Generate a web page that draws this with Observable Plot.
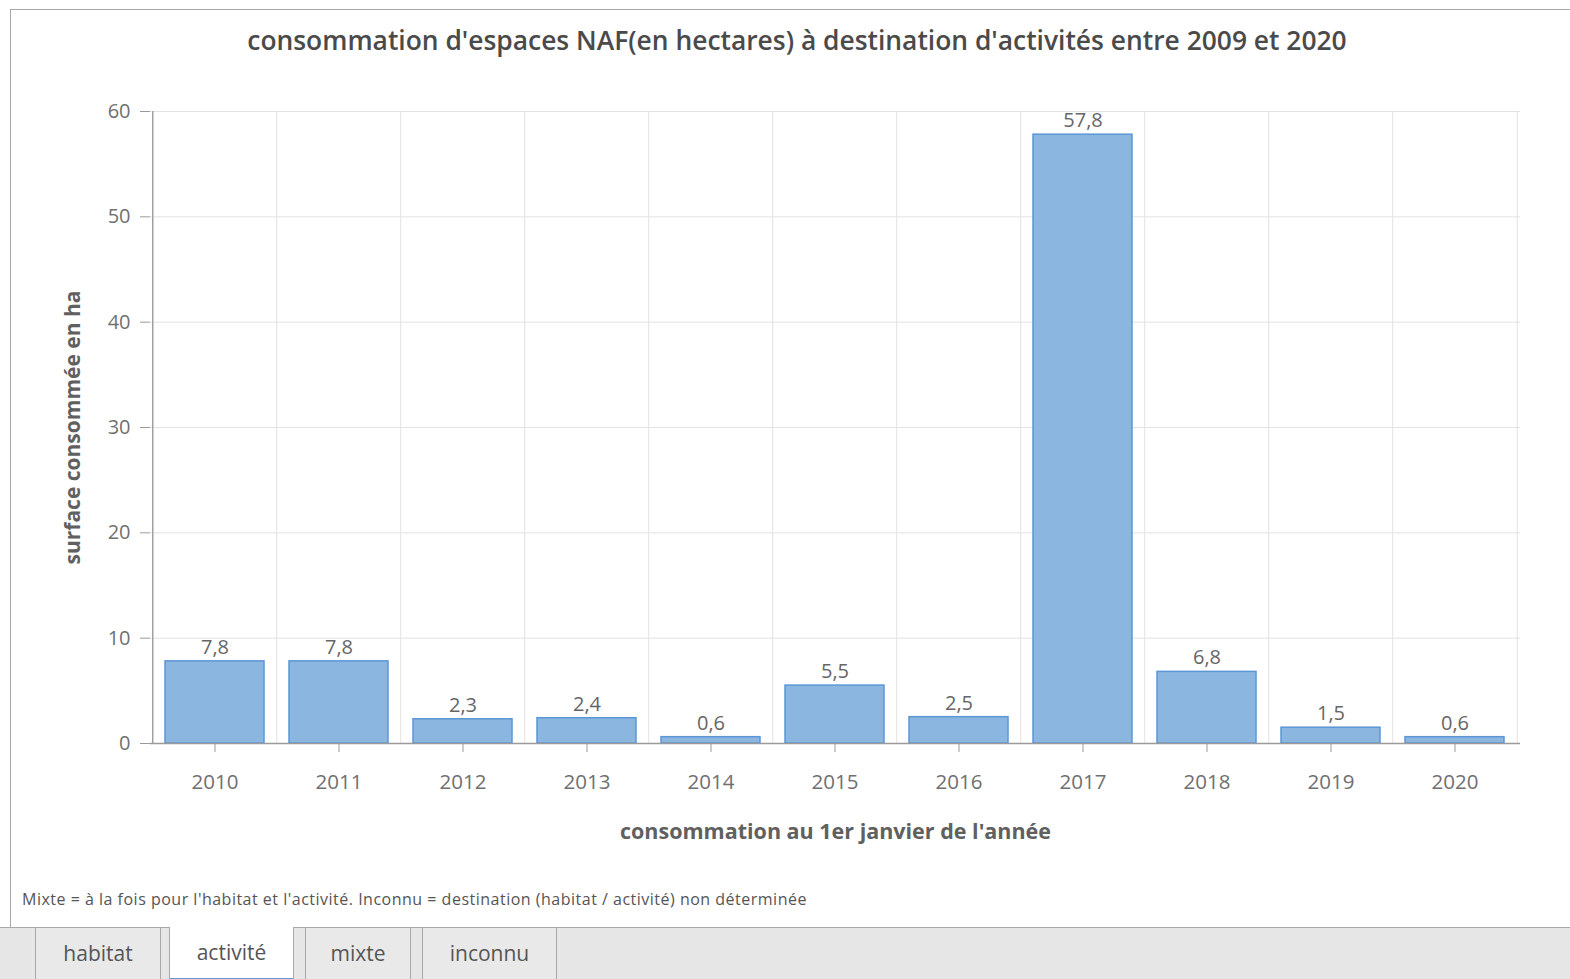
<!DOCTYPE html>
<html>
<head>
<meta charset="utf-8">
<script src="https://cdn.jsdelivr.net/npm/d3@7"></script>
<script src="https://cdn.jsdelivr.net/npm/@observablehq/plot@0.6"></script>
<style>
  html, body { margin: 0; padding: 0; background: #fff; width: 1570px; height: 979px; overflow: hidden; font-family: "Open Sans", "Noto Sans", sans-serif; }
  #box { position: absolute; left: 10px; top: 9px; width: 1570px; height: 918px; border-left: 1px solid #a8a8a8; border-top: 1px solid #a8a8a8; box-sizing: border-box; }
  #title { position: absolute; top: 22px; left: 797px; transform: translateX(-50%); white-space: nowrap; font-size: 26.4px; font-weight: 600; color: #4a4a4a; }
  #chart { position: absolute; left: 8px; top: 90px; }
  #note { position: absolute; left: 22px; top: 888px; font-size: 16px; color: #555; white-space: nowrap; letter-spacing: 0.5px; }
  #tabs { position: absolute; left: 0; top: 927px; width: 1570px; height: 52px; background: #e6e6e6; border-top: 1px solid #a8a8a8; box-sizing: border-box; }
  .tab { position: absolute; top: 0; height: 52px; box-sizing: border-box; border: 1px solid #a8a8a8; border-top: none; background: #e9e9e9; color: #555; font-size: 21px; text-align: center; line-height: 50px; }
  .tab.sel { background: #fff; border-bottom: 2px solid #5b9bd5; top: -1px; height: 53px; }
</style>
</head>
<body>
<div id="box"></div>
<div id="title">consommation d'espaces NAF(en hectares) à destination d'activités entre 2009 et 2020</div>
<div id="chart"></div>
<div id="note">Mixte = à la fois pour l'habitat et l'activité. Inconnu = destination (habitat / activité) non déterminée</div>
<div id="tabs"></div>
<script>
const years = ["2010","2011","2012","2013","2014","2015","2016","2017","2018","2019","2020"];
const values = [7.8, 7.8, 2.3, 2.4, 0.6, 5.5, 2.5, 57.8, 6.8, 1.5, 0.6];
const yTicks = [0, 10, 20, 30, 40, 50, 60];
const tabLabels = ["habitat", "activité", "mixte", "inconnu"];
const selectedTab = "activité";
const xTitle = "consommation au 1er janvier de l'année";
const yTitle = "surface consommée en ha";

const data = years.map((y, i) => ({year: y, value: values[i]}));

const W = 1562, H = 770, mL = 142, mR = 50, mT = 21, mB = 117;
const step = (W - mL - mR) / years.length;
const fmt = v => String(v).replace(".", ",");

const chart = Plot.plot({
  width: W, height: H,
  marginLeft: mL, marginRight: mR, marginTop: mT, marginBottom: mB,
  style: {fontFamily: "'Open Sans', 'Noto Sans', sans-serif", background: "transparent"},
  x: {type: "band", domain: years, paddingInner: 0.2, paddingOuter: 0.1},
  y: {domain: [0, 60]},
  marks: [
    Plot.ruleY(yTicks, {y: d => d, stroke: "#e2e2e2", strokeWidth: 1}),
    Plot.ruleX(years.slice(1), {x: d => d, dx: -step / 2, stroke: "#e2e2e2", strokeWidth: 1}),
    Plot.ruleX(years.slice(-1), {x: d => d, dx: step / 2, stroke: "#e2e2e2", strokeWidth: 1}),
    Plot.ruleX(years.slice(0, 1), {x: d => d, dx: -step / 2, stroke: "#a0a0a0", strokeWidth: 1.5}),
    Plot.barY(data, {x: "year", y: "value", fill: "#8ab6e0", stroke: "#5b97d6", strokeWidth: 1.5}),
    Plot.ruleY([0], {stroke: "#9a9a9a", strokeWidth: 1.5}),
    Plot.text(data, {x: "year", y: "value", text: d => fmt(d.value), dy: -14, fill: "#666", fontSize: 20}),
    Plot.axisY({ticks: yTicks, tickSize: 10, tickPadding: 10, stroke: "#9a9a9a", fill: "#707070", fontSize: 20, label: null, tickFormat: d => d}),
    Plot.axisX({tickSize: 9, tickPadding: 22, stroke: "#9a9a9a", fill: "#707070", fontSize: 20.5, label: null}),
    Plot.text([xTitle], {frameAnchor: "bottom", dy: 95, fill: "#606060", fontSize: 21.5, fontWeight: "bold"}),
    Plot.text([yTitle], {frameAnchor: "left", textAnchor: "middle", dx: -77, rotate: -90, fill: "#606060", fontSize: 21, fontWeight: "bold"})
  ]
});
document.getElementById("chart").appendChild(chart);

const tabPos = [[35, 126], [169, 125], [305, 106], [422, 135]];
const tabs = document.getElementById("tabs");
tabLabels.forEach((t, i) => {
  const d = document.createElement("div");
  d.className = "tab" + (t === selectedTab ? " sel" : "");
  d.style.left = tabPos[i][0] + "px";
  d.style.width = tabPos[i][1] + "px";
  d.textContent = t;
  tabs.appendChild(d);
});
</script>
</body>
</html>
